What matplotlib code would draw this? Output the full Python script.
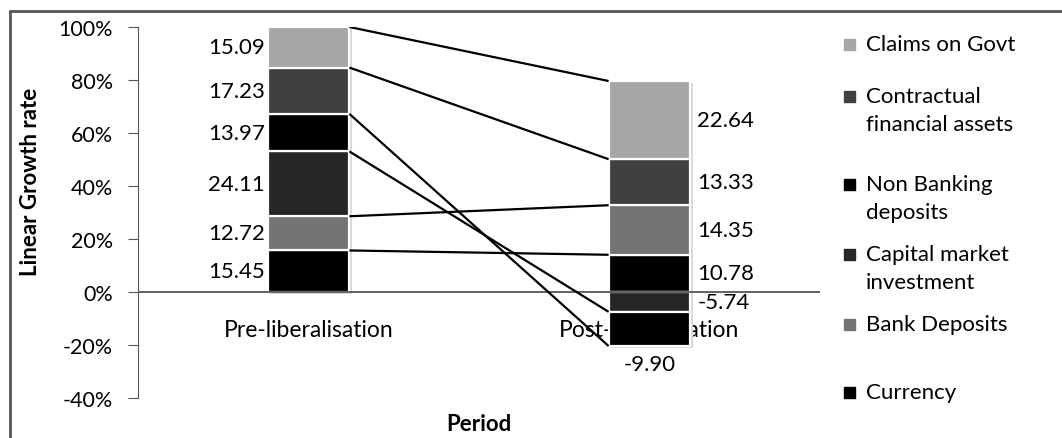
import matplotlib
matplotlib.use("Agg")
import matplotlib.pyplot as plt
from matplotlib.patches import Rectangle
import numpy as np

plt.rcParams['font.family'] = ['Lato', 'DejaVu Sans']

periods = ["Pre-liberalisation", "Post-liberalisation"]
series = ["Currency", "Bank Deposits", "Capital market investment",
          "Non Banking deposits", "Contractual financial assets", "Claims on Govt"]
legend_lines = {
    "Claims on Govt": ["Claims on Govt"],
    "Contractual financial assets": ["Contractual", "financial assets"],
    "Non Banking deposits": ["Non Banking", "deposits"],
    "Capital market investment": ["Capital market", "investment"],
    "Bank Deposits": ["Bank Deposits"],
    "Currency": ["Currency"],
}
pre_values = [15.45, 12.72, 24.11, 13.97, 17.23, 15.09]
post_values = [10.78, 14.35, -5.74, -9.90, 13.33, 22.64]
colors = ["#000000", "#737373", "#262626", "#000000", "#404040", "#A6A6A6"]
yticks = [-0.4, -0.2, 0.0, 0.2, 0.4, 0.6, 0.8, 1.0]

W, H = 1062, 439
fig = plt.figure(figsize=(W / 100, H / 100), dpi=100)
ax = fig.add_axes([138 / W, 40 / H, 682 / W, 371 / H])
ax.set_xlim(-0.5, 1.5)
ax.set_ylim(-0.4, 1.0)

bw = 0.24
data = [pre_values, post_values]
tops = []
for pi, vals in enumerate(data):
    total = sum(abs(v) for v in vals)
    pos, neg = 0.0, 0.0
    segs = []
    for si, v in enumerate(vals):
        f = v / total
        if f >= 0:
            b = pos
            pos += f
            end = pos
        else:
            b = neg
            neg += f
            end = neg
        ax.bar(pi + 0.008, f, bw, bottom=b - 0.006, color="#d9d9d9", zorder=2, linewidth=0)
        segs.append((b, f, end))
    for si, (b, f, end) in enumerate(segs):
        ax.bar(pi, f, bw, bottom=b, color=colors[si], edgecolor="white",
               linewidth=1.6, zorder=3)
    tops.append(segs)

# series lines
for si in range(len(series)):
    y0 = tops[0][si][2]
    y1 = tops[1][si][2]
    ax.plot([0 + bw / 2, 1 - bw / 2], [y0, y1], color="black", lw=1.6,
            zorder=4, solid_capstyle="butt")

# data labels
fs_lab = 16
for si, (b, f, end) in enumerate(tops[0]):
    ax.annotate(f"{pre_values[si]:.2f}", xy=(0 - bw / 2, b + f / 2), xytext=(-2, 0),
                textcoords="offset points", ha="right", va="center",
                fontsize=fs_lab, zorder=5)
for si, (b, f, end) in enumerate(tops[1]):
    v = post_values[si]
    if si == 3:
        ax.annotate(f"{v:.2f}", xy=(1, b + f), xytext=(0, -6),
                    textcoords="offset points", ha="center", va="top",
                    fontsize=fs_lab, zorder=5)
    else:
        ax.annotate(f"{v:.2f}", xy=(1 + bw / 2, b + f / 2), xytext=(5, 0),
                    textcoords="offset points", ha="left", va="center",
                    fontsize=fs_lab, zorder=5)

# category labels (beneath bars)
for pi, name in enumerate(periods):
    ax.text(pi, -0.143, name, ha="center", va="center", fontsize=16.5, zorder=1)

# axes styling
for s in ["top", "right", "bottom"]:
    ax.spines[s].set_visible(False)
ax.spines["left"].set_color("#555555")
ax.axhline(0, color="#555555", lw=1.3, zorder=3.5)
ax.set_xticks([])
ax.set_yticks(yticks)
ax.set_yticklabels([f"{int(round(t * 100))}%" for t in yticks], fontsize=15.5)
ax.tick_params(axis="y", direction="out", length=7, color="#555555", pad=11)

fig.text(31 / W, 1 - 182 / H, "Linear Growth rate", rotation=90, ha="center",
         va="center", fontsize=16, fontweight="bold")
fig.text(479 / W, 1 - 425 / H, "Period", ha="center", va="center",
         fontsize=16, fontweight="bold")

# legend (manual)
leg_order = list(reversed(range(len(series))))
line_y = [[45], [97, 125], [185, 213], [255, 283], [325], [393]]
for k, si in enumerate(leg_order):
    ys = line_y[k]
    fig.patches.append(Rectangle((844 / W, 1 - (ys[0] + 5.5) / H), 11 / W, 11 / H,
                                 transform=fig.transFigure, color=colors[si]))
    for txt, yy in zip(legend_lines[series[si]], ys):
        fig.text(866 / W, 1 - yy / H, txt, ha="left", va="center", fontsize=16)

# outer border (cropped at right and bottom)
fig.patches.append(Rectangle((10 / W, -0.1), 1.2, 1 - 12 / H + 0.1,
                             transform=fig.transFigure, fill=False,
                             edgecolor="#555555", lw=2))

fig.savefig("out.png", dpi=100)
